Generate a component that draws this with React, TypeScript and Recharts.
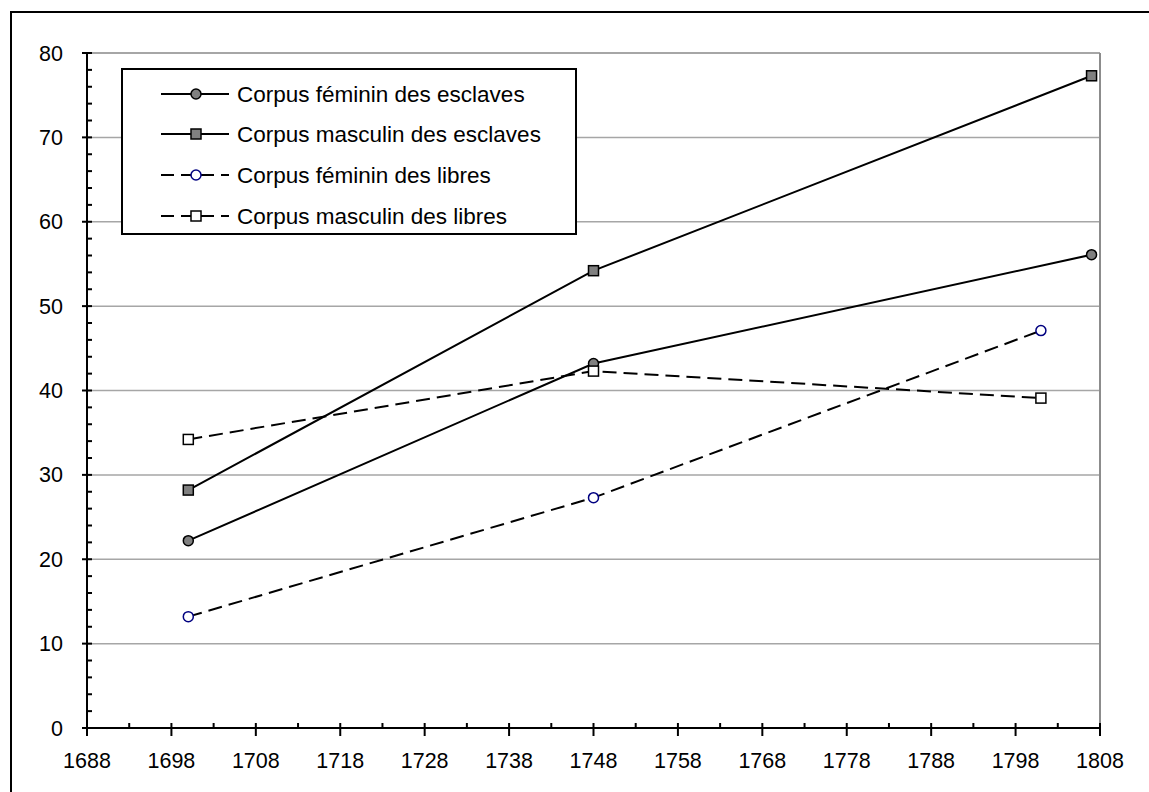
import { LineChart, Line, XAxis, YAxis, ReferenceLine, Legend } from "recharts";

// années des observations
const anneesEsclaves = [1700, 1748, 1807];
const anneesLibres = [1700, 1748, 1801];

// valeurs
const femininEsclaves = [22.2, 43.2, 56.1];
const masculinEsclaves = [28.2, 54.2, 77.3];
const femininLibres = [13.2, 27.3, 47.1];
const masculinLibres = [34.2, 42.3, 39.1];

const xMajor = [1688, 1698, 1708, 1718, 1728, 1738, 1748, 1758, 1768, 1778, 1788, 1798, 1808];
const yMajor = [0, 10, 20, 30, 40, 50, 60, 70, 80];
const gridValues = [10, 20, 30, 40, 50, 60, 70, 80];

const xTicks = xMajor.flatMap((v) => (v < 1808 ? [v, v + 5] : [v]));
const yTicks = yMajor.flatMap((v) => (v < 80 ? [v, v + 2, v + 4, v + 6, v + 8] : [v]));

const FONT = "Arial, 'Liberation Sans', sans-serif";

const series = [
  { name: "Corpus féminin des esclaves", years: anneesEsclaves, values: femininEsclaves, dashed: false, shape: "circle", fill: "#808080", stroke: "#000" },
  { name: "Corpus masculin des esclaves", years: anneesEsclaves, values: masculinEsclaves, dashed: false, shape: "square", fill: "#808080", stroke: "#000" },
  { name: "Corpus féminin des libres", years: anneesLibres, values: femininLibres, dashed: true, shape: "circle", fill: "#fff", stroke: "#000080" },
  { name: "Corpus masculin des libres", years: anneesLibres, values: masculinLibres, dashed: true, shape: "square", fill: "#fff", stroke: "#000" },
];

function Marker({ cx, cy, shape, fill, stroke }: any) {
  if (cx == null || cy == null) return null;
  if (shape === "square") {
    return <rect x={cx - 5} y={cy - 5} width={10} height={10} fill={fill} stroke={stroke} strokeWidth={1.5} />;
  }
  return <circle cx={cx} cy={cy} r={5} fill={fill} stroke={stroke} strokeWidth={1.5} />;
}

function XTick({ x, y, payload }: any) {
  const v = payload.value;
  const major = (v - 1688) % 10 === 0;
  if (!major) {
    return <line x1={x} x2={x} y1={y - 5} y2={y} stroke="#000" strokeWidth={2} />;
  }
  return (
    <g>
      <line x1={x} x2={x} y1={y - 5} y2={y + 8} stroke="#000" strokeWidth={2} />
      <text x={x} y={y + 40} textAnchor="middle" fontSize={21.5} fontFamily={FONT} fill="#000">
        {v}
      </text>
    </g>
  );
}

function YTick({ x, y, payload }: any) {
  const v = payload.value;
  const major = v % 10 === 0;
  if (!major) {
    return <line x1={x} x2={x + 5} y1={y} y2={y} stroke="#000" strokeWidth={2} />;
  }
  return (
    <g>
      <line x1={x - 5} x2={x + 5} y1={y} y2={y} stroke="#000" strokeWidth={2} />
      <text x={x - 24} y={y + 7.5} textAnchor="end" fontSize={21.5} fontFamily={FONT} fill="#000">
        {v}
      </text>
    </g>
  );
}

function LegendBox() {
  const rows = [24, 64, 105, 146];
  return (
    <div style={{ width: 452, height: 163, border: "2px solid #000", background: "#fff" }}>
      <svg width={452} height={163}>
        {series.map((s, i) => (
          <g key={s.name}>
            <line
              x1={38}
              x2={106}
              y1={rows[i]}
              y2={rows[i]}
              stroke="#000"
              strokeWidth={2}
              strokeDasharray={s.dashed ? "13 7" : undefined}
            />
            <Marker cx={73} cy={rows[i]} shape={s.shape} fill={s.fill} stroke={s.stroke} />
            <text x={114} y={rows[i] + 8} fontSize={22.5} fontFamily={FONT} fill="#000">
              {s.name}
            </text>
          </g>
        ))}
      </svg>
    </div>
  );
}

export default function App() {
  return (
    <div style={{ position: "relative", width: 1149, height: 792, background: "#fff" }}>
      <style>{`body{margin:0}`}</style>
      <div
        style={{
          position: "absolute",
          left: 10,
          top: 11,
          width: 1145,
          height: 785,
          border: "2px solid #000",
        }}
      />
      <div style={{ position: "absolute", left: 0, top: 0 }}>
        <LineChart width={1149} height={792} margin={{ top: 53, right: 49, bottom: 34, left: 0 }}>
          <XAxis
            dataKey="annee"
            type="number"
            domain={[1688, 1808]}
            ticks={xTicks}
            interval={0}
            tickSize={0}
            tickMargin={0}
            tick={<XTick />}
            tickLine={false}
            height={30}
            axisLine={{ stroke: "#000", strokeWidth: 2 }}
            allowDataOverflow
          />
          <YAxis
            type="number"
            domain={[0, 80]}
            ticks={yTicks}
            interval={0}
            tickSize={0}
            tickMargin={0}
            tick={<YTick />}
            tickLine={false}
            width={87}
            axisLine={{ stroke: "#000", strokeWidth: 2 }}
            allowDataOverflow
          />
          {gridValues.map((v) => (
            <ReferenceLine key={v} y={v} stroke="#a6a6a6" strokeWidth={v === 80 ? 2 : 1.5} />
          ))}
          <ReferenceLine x={1808} stroke="#8c8c8c" strokeWidth={2} />
          <Legend
            layout="vertical"
            align="center"
            verticalAlign="middle"
            wrapperStyle={{ position: "absolute", left: 121, top: 68, width: 456, height: 167 }}
            content={() => <LegendBox />}
          />
          {series.map((s) => (
            <Line
              key={s.name}
              name={s.name}
              data={s.years.map((annee, i) => ({ annee, valeur: s.values[i] }))}
              dataKey="valeur"
              type="linear"
              stroke="#000"
              strokeWidth={2}
              strokeDasharray={s.dashed ? "14 7" : undefined}
              dot={(p: any) => <Marker key={`${s.name}-${p.index}`} cx={p.cx} cy={p.cy} shape={s.shape} fill={s.fill} stroke={s.stroke} />}
              activeDot={false}
              isAnimationActive={false}
            />
          ))}
        </LineChart>
      </div>
    </div>
  );
}
